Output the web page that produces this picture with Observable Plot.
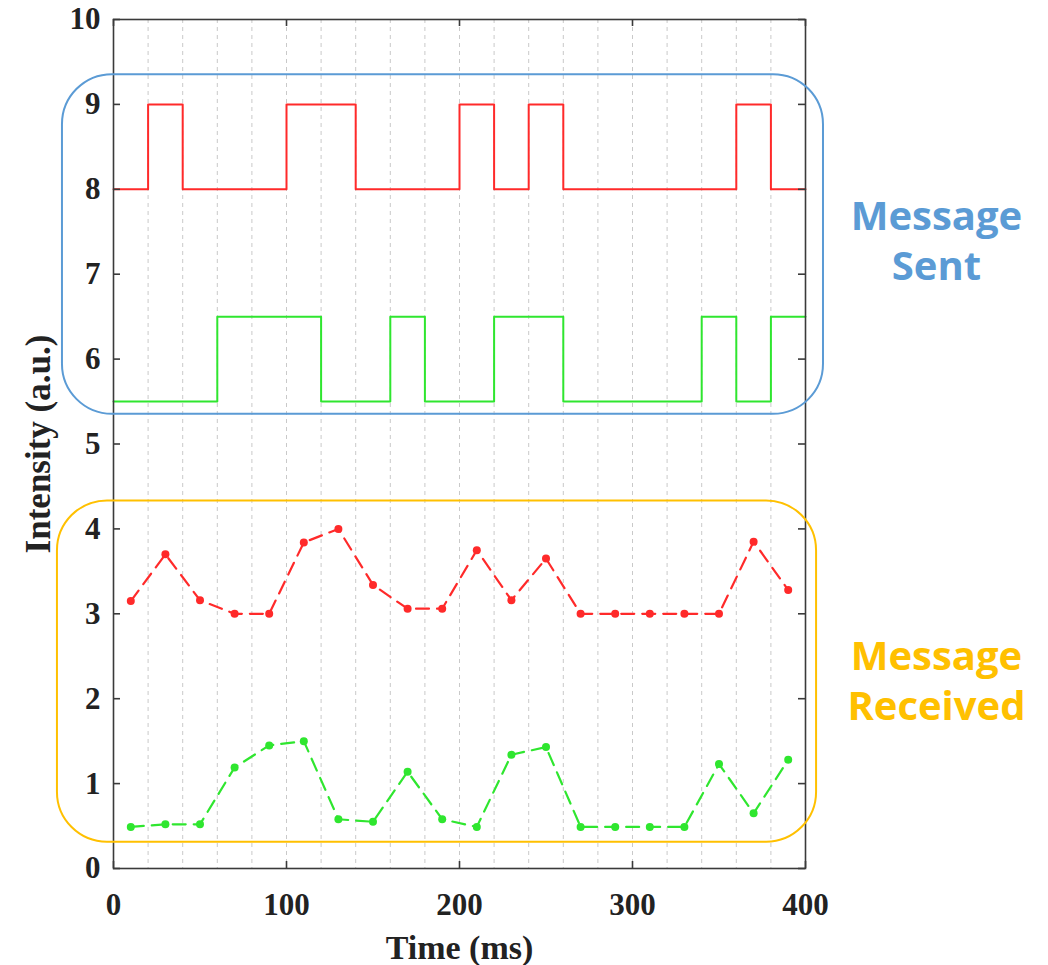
<!DOCTYPE html>
<html>
<head>
<meta charset="utf-8">
<script src="https://cdn.jsdelivr.net/npm/d3@7"></script>
<script src="https://cdn.jsdelivr.net/npm/@observablehq/plot@0.6"></script>
<style>
  body { margin: 0; background: #fff; }
  #chart svg { display: block; }
</style>
</head>
<body>
<div id="chart"></div>
<script>
// ---- data ----
const slotStarts = [0, 20, 40, 60, 80, 100, 120, 140, 160, 180, 200, 220, 240, 260, 280, 300, 320, 340, 360, 380];
const slotEnd = 400;
const sentRedBits   = [0, 1, 0, 0, 0, 1, 1, 0, 0, 0, 1, 0, 1, 0, 0, 0, 0, 0, 1, 0];
const sentGreenBits = [0, 0, 0, 1, 1, 1, 0, 0, 1, 0, 0, 1, 1, 0, 0, 0, 0, 1, 0, 1];
const sentRedLevels = [8, 9];      // [low, high]
const sentGreenLevels = [5.5, 6.5];

const sampleTimes = [10, 30, 50, 70, 90, 110, 130, 150, 170, 190, 210, 230, 250, 270, 290, 310, 330, 350, 370, 390];
const receivedRed   = [3.15, 3.70, 3.16, 3.00, 3.00, 3.84, 4.00, 3.34, 3.06, 3.06, 3.75, 3.16, 3.65, 3.00, 3.00, 3.00, 3.00, 3.00, 3.85, 3.28];
const receivedGreen = [0.49, 0.52, 0.52, 1.19, 1.45, 1.50, 0.58, 0.55, 1.14, 0.58, 0.49, 1.34, 1.43, 0.49, 0.49, 0.49, 0.49, 1.23, 0.65, 1.28];

const xTicks = [0, 100, 200, 300, 400];
const yTicks = [0, 1, 2, 3, 4, 5, 6, 7, 8, 9, 10];
const gridTimes = [20, 40, 60, 80, 100, 120, 140, 160, 180, 200, 220, 240, 260, 280, 300, 320, 340, 360, 380];

// annotation boxes (in data units)
const boxNames = ["Message Sent", "Message Received"];
const boxX1 = [-29.5, -32.4];
const boxX2 = [410.4, 406.4];
const boxY1 = [5.35, 0.31];
const boxY2 = [9.35, 4.33];
const boxColors = ["#5B9BD5", "#FFC000"];

const noteLines = ["Message", "Sent", "Message", "Received"];
const noteX = [475.7, 475.7, 475.7, 475.7];
const noteY = [7.67, 7.08, 2.49, 1.90];
const noteColors = ["#5B9BD5", "#5B9BD5", "#FFC000", "#FFC000"];

// ---- build tables ----
function squareWave(bits, levels) {
  const pts = slotStarts.map((t, i) => ({t, v: levels[bits[i]]}));
  pts.push({t: slotEnd, v: levels[bits[bits.length - 1]]});
  return pts;
}
const redSent = squareWave(sentRedBits, sentRedLevels);
const greenSent = squareWave(sentGreenBits, sentGreenLevels);
const redRecv = sampleTimes.map((t, i) => ({t, v: receivedRed[i]}));
const greenRecv = sampleTimes.map((t, i) => ({t, v: receivedGreen[i]}));
const boxes = boxNames.map((name, i) => ({name, x1: boxX1[i], x2: boxX2[i], y1: boxY1[i], y2: boxY2[i], color: boxColors[i]}));
const notes = noteLines.map((text, i) => ({text, x: noteX[i], y: noteY[i], color: noteColors[i]}));

const W = 1048, H = 965;
const mL = 113, mR = 243, mT = 19, mB = 97;
const innerW = W - mL - mR, innerH = H - mT - mB;
const tickLen = 7;
const RED = "#ff2a2a", GREEN = "#2fe62f", AXIS = "#3a3a3a";

const chart = Plot.plot({
  width: W,
  height: H,
  marginLeft: mL,
  marginRight: mR,
  marginTop: mT,
  marginBottom: mB,
  style: {fontFamily: "'Liberation Serif', 'Times New Roman', serif", background: "#fff", overflow: "visible"},
  x: {domain: [0, 400], axis: null},
  y: {domain: [0, 10], axis: null},
  marks: [
    // dashed vertical grid
    Plot.ruleX(gridTimes, {stroke: "#c9c9c9", strokeWidth: 1, strokeDasharray: "4,4"}),
    // sent square waves
    Plot.line(redSent, {x: "t", y: "v", curve: "step-after", stroke: RED, strokeWidth: 2}),
    Plot.line(greenSent, {x: "t", y: "v", curve: "step-after", stroke: GREEN, strokeWidth: 2}),
    // received
    Plot.line(redRecv, {x: "t", y: "v", stroke: RED, strokeWidth: 2.2, strokeDasharray: "13,8"}),
    Plot.dot(redRecv, {x: "t", y: "v", r: 4, fill: RED}),
    Plot.line(greenRecv, {x: "t", y: "v", stroke: GREEN, strokeWidth: 2.2, strokeDasharray: "13,8"}),
    Plot.dot(greenRecv, {x: "t", y: "v", r: 4, fill: GREEN}),
    // frame
    Plot.frame({stroke: AXIS, strokeWidth: 1.6}),
    // inward ticks
    Plot.tickY(yTicks, {y: d => d, stroke: AXIS, strokeWidth: 1.6, insetRight: innerW - tickLen}),
    Plot.tickY(yTicks, {y: d => d, stroke: AXIS, strokeWidth: 1.6, insetLeft: innerW - tickLen}),
    Plot.tickX(xTicks, {x: d => d, stroke: AXIS, strokeWidth: 1.6, insetTop: innerH - tickLen}),
    Plot.tickX(xTicks, {x: d => d, stroke: AXIS, strokeWidth: 1.6, insetBottom: innerH - tickLen}),
    // tick labels
    Plot.axisY(yTicks, {anchor: "left", tickSize: 0, tickPadding: 13, tickFormat: d => String(d), fontSize: 31, fontWeight: "bold", fill: "#222", label: null}),
    Plot.axisX(xTicks, {anchor: "bottom", tickSize: 0, tickPadding: 24, tickFormat: d => String(d), fontSize: 31, fontWeight: "bold", fill: "#222", label: null}),
    // axis titles
    Plot.text(["Time (ms)"], {frameAnchor: "bottom", dy: 80, lineAnchor: "middle", textAnchor: "middle", fontSize: 34, fontWeight: "bold", fill: "#222"}),
    Plot.text(["Intensity (a.u.)"], {frameAnchor: "left", dx: -75, rotate: -90, lineAnchor: "middle", textAnchor: "middle", fontSize: 35, fontWeight: "bold", fill: "#222"}),
    // annotation boxes
    Plot.rect(boxes, {x1: "x1", x2: "x2", y1: "y1", y2: "y2", fill: "none", stroke: "color", strokeWidth: 2, rx: 50}),
    Plot.text(notes, {x: "x", y: "y", text: "text", fill: "color", fontSize: 40, fontWeight: "bold", fontFamily: "'Open Sans', sans-serif", lineAnchor: "middle", textAnchor: "middle"})
  ]
});
document.getElementById("chart").appendChild(chart);
</script>
</body>
</html>
